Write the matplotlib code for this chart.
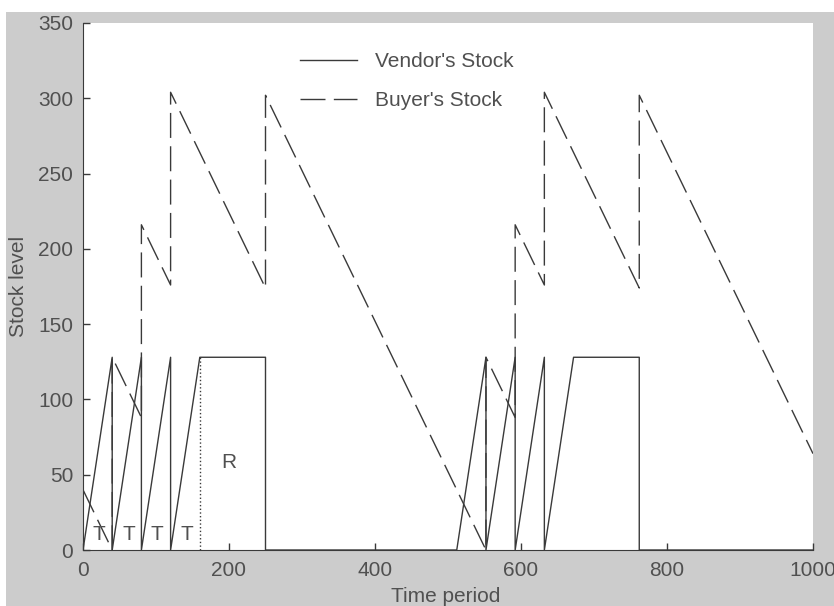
import matplotlib.pyplot as plt
from matplotlib.patches import Rectangle

# vendor stock breakpoints (time, level)
vendor_t = [0, 40, 40, 80, 80, 120, 120, 160, 250, 250, 512, 552, 552, 592, 592, 632, 632, 672, 762, 762, 1000]
vendor_s = [0, 128, 0, 128, 0, 128, 0, 128, 128, 0, 0, 128, 0, 128, 0, 128, 0, 128, 128, 0, 0]

# buyer stock breakpoints (time, level)
buyer_t = [0, 40, 40, 80, 80, 120, 120, 250, 250, 552, 552, 592, 592, 632, 632, 762, 762, 1000]
buyer_s = [40, 0, 128, 88, 216, 176, 304, 174, 302, 0, 128, 88, 216, 176, 304, 174, 302, 64]

# dotted marker between T and R
marker_t = [160, 160]
marker_s = [0, 128]

t_labels = ["T", "T", "T", "T"]
t_pos = [22, 63, 101, 142]
r_label = "R"
r_pos = 200

plt.rcParams['font.family'] = ['Liberation Sans', 'DejaVu Sans']
ink = '#3a3a3a'
txt = '#505050'
fs = 15

fig = plt.figure(figsize=(8.34, 6.06), dpi=100, facecolor='white')
fig.patches.append(Rectangle((6 / 834, 0), 1, 1 - 12 / 606, transform=fig.transFigure,
                             facecolor='#cccccc', edgecolor='none', zorder=-10))
ax = fig.add_axes([83 / 834, 56 / 606, 730 / 834, 527 / 606])

ax.plot(vendor_t, vendor_s, color=ink, linewidth=1.0, label="Vendor's Stock")
ax.plot(buyer_t, buyer_s, color=ink, linewidth=1.0, dashes=[18, 6], label="Buyer's Stock")
ax.plot(marker_t, marker_s, color=ink, linewidth=1.0, linestyle=':')

for x, s in zip(t_pos, t_labels):
    ax.text(x, 10, s, fontsize=fs, color=txt, ha='center', va='center')
ax.text(r_pos, 58, r_label, fontsize=fs, color=txt, ha='center', va='center')

ax.set_xlim(0, 1000)
ax.set_ylim(0, 350)
ax.set_xticks(range(0, 1001, 200))
ax.set_yticks(range(0, 351, 50))
ax.tick_params(direction='in', length=5, width=1, color=ink, labelcolor=txt, labelsize=fs)
ax.tick_params(axis='y', pad=7)
ax.tick_params(axis='x', pad=8)
for side in ['top', 'right']:
    ax.spines[side].set_visible(False)
for side in ['left', 'bottom']:
    ax.spines[side].set_color(ink)

ax.set_xlabel('Time period', fontsize=fs, color=txt)
ax.set_ylabel('Stock level', fontsize=fs, color=txt)
ax.xaxis.label.set_va('center')
ax.yaxis.label.set_va('center')
ax.xaxis.set_label_coords(0.497, -0.089)
ax.yaxis.set_label_coords(-0.089, 0.5)

ax.legend(loc='upper left', bbox_to_anchor=(0.271, 0.98), frameon=False, fontsize=fs,
          handlelength=2.75, labelspacing=0.95, handletextpad=0.85, labelcolor=txt)

fig.savefig('out.png', dpi=100)
